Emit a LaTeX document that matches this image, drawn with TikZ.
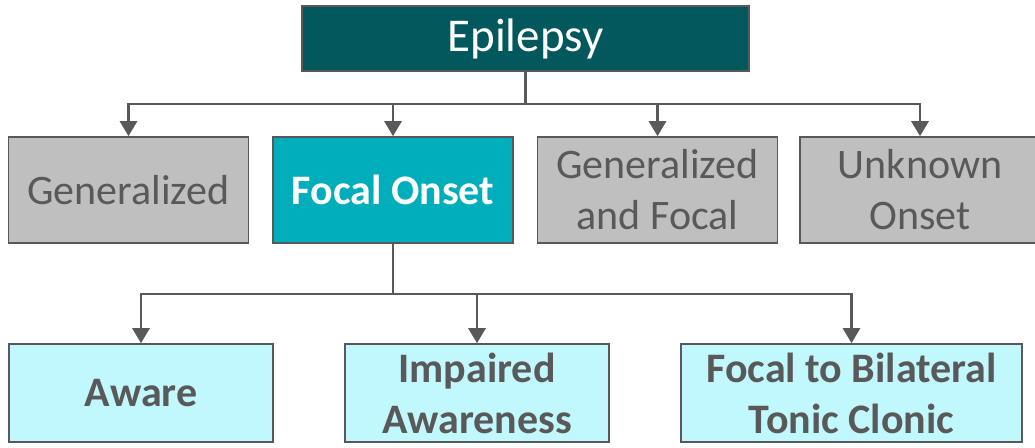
\documentclass[tikz,border=0pt]{standalone}
\usepackage{fontspec}
\setmainfont{Carlito}
\usetikzlibrary{arrows.meta}
\definecolor{epiteal}{HTML}{02585D}
\definecolor{onsetteal}{HTML}{00ADBA}
\definecolor{greybox}{HTML}{BFBFBF}
\definecolor{paletcyan}{HTML}{C0F8FD}
\definecolor{linegrey}{HTML}{595959}
\definecolor{textgrey}{HTML}{595959}
\begin{document}
\begin{tikzpicture}[x=1pt,y=-1pt,
	box/.style={draw=linegrey,line width=1.6pt,inner sep=0pt,align=center,
		font=\fontsize{42}{51}\selectfont},
	top/.style={box,fill=epiteal,text=white,minimum width=447pt,minimum height=65pt,
		font=\fontsize{47}{56}\selectfont},
	kind/.style={box,fill=greybox,text=textgrey,minimum width=240pt,minimum height=106pt},
	onset/.style={box,fill=onsetteal,text=white,minimum width=240pt,minimum height=106pt,
		font=\fontsize{42}{51}\selectfont\bfseries},
	sub/.style={box,fill=paletcyan,text=textgrey,minimum height=98pt,
		font=\fontsize{42}{51}\selectfont\bfseries},
	link/.style={draw=linegrey,line width=2.8pt,-{Triangle[length=15pt,width=17pt]}}]
		\useasboundingbox (0,0) rectangle (1035,447);
		% boxes
		\node [top] (epi) at (525.5,38.5) {Epilepsy};
		\node [kind] (gen) at (128.5,190) {Generalized};
		\node [onset] (foc) at (393,190) {Focal Onset};
		\node [kind] (genfoc) at (657.5,190) {Generalized\\and Focal};
		\node [kind] (unk) at (920,190) {Unknown\\Onset};
		\node [sub,minimum width=264pt] (aware) at (141,393) {Aware};
		\node [sub,minimum width=264pt] (impaired) at (477,393) {Impaired\\Awareness};
		\node [sub,minimum width=341pt] (bilat) at (851.5,393) {Focal to Bilateral\\Tonic Clonic};
		% connectors
		\coordinate (bus1) at (0,104);
		\coordinate (bus2) at (0,294);
		\foreach \child in {gen,foc,genfoc,unk}
			\draw[link] (epi.south) -- (epi.south |- bus1) -| (\child.north);
		\foreach \child in {aware,impaired,bilat}
			\draw[link] (foc.south) -- (foc.south |- bus2) -| (\child.north);
	\end{tikzpicture}
\end{document}
